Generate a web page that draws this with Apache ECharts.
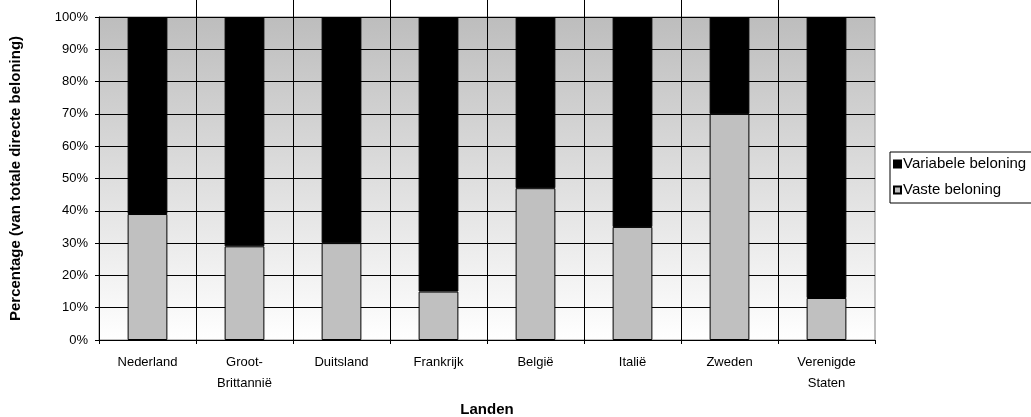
<!DOCTYPE html>
<html>
<head>
<meta charset="utf-8">
<script src="https://cdn.jsdelivr.net/npm/echarts@6/dist/echarts.min.js"></script>
<style>
  html, body { margin: 0; padding: 0; background: #fff; }
  #chart { width: 1031px; height: 417px; }
</style>
</head>
<body>
<div id="chart"></div>
<script>
// Landen en het aandeel vaste / variabele beloning (in % van totale directe beloning)
const landen = ['Nederland', 'Groot-\nBrittannië', 'Duitsland', 'Frankrijk', 'België', 'Italië', 'Zweden', 'Verenigde\nStaten'];
const vasteBeloning = [39, 29, 30, 15, 47, 35, 70, 13];
const variabeleBeloning = [61, 71, 70, 85, 53, 65, 30, 87];
const yTicks = { min: 0, max: 100, interval: 10 };

const FONT = '"Liberation Sans", Arial, sans-serif';

const chart = echarts.init(document.getElementById('chart'), null, { renderer: 'canvas' });

chart.setOption({
  animation: false,
  backgroundColor: '#ffffff',
  textStyle: { fontFamily: FONT },
  grid: [
    {
      left: 99, top: 17, right: 156, bottom: 77,
      outerBoundsMode: 'none',
      containLabel: false,
      show: true,
      borderColor: '#808080',
      borderWidth: 1,
      backgroundColor: new echarts.graphic.LinearGradient(0, 0, 0, 1, [
        { offset: 0, color: '#bdbdbd' },
        { offset: 1, color: '#ffffff' }
      ])
    },
    // strook boven het plotvlak waar de scheidingslijnen doorlopen
    { left: 99, top: 0, right: 156, height: 17, outerBoundsMode: 'none' }
  ],
  legend: {
    orient: 'vertical',
    left: 890, top: 152,
    data: ['Variabele beloning', 'Vaste beloning'],
    icon: 'rect',
    itemWidth: 7, itemHeight: 7,
    itemGap: 10,
    padding: [4, 40, 5, 3],
    borderColor: '#000', borderWidth: 1,
    textStyle: { fontFamily: FONT, fontSize: 15, color: '#000', padding: [0, 0, 0, -3], lineHeight: 16 }
  },
  xAxis: [
    {
      type: 'category',
      gridIndex: 0,
      data: landen,
      name: 'Landen',
      nameLocation: 'middle',
      nameGap: 62,
      nameTextStyle: { fontFamily: FONT, fontSize: 15, fontWeight: 'bold', color: '#000' },
      axisLine: { lineStyle: { color: '#000', width: 1 } },
      axisTick: { show: true, length: 4, lineStyle: { color: '#000' } },
      axisLabel: { fontFamily: FONT, fontSize: 13, color: '#000', margin: 12, lineHeight: 21 },
      splitLine: { show: true, showMinLine: false, showMaxLine: false, lineStyle: { color: '#000', width: 1 } }
    },
    {
      type: 'category',
      gridIndex: 1,
      data: landen,
      axisLine: { show: false },
      axisTick: { show: false },
      axisLabel: { show: false },
      splitLine: { show: true, showMinLine: false, showMaxLine: false, lineStyle: { color: '#000', width: 1 } }
    }
  ],
  yAxis: [
    {
      type: 'value',
      gridIndex: 0,
      min: yTicks.min, max: yTicks.max, interval: yTicks.interval,
      name: 'Percentage (van totale directe beloning)',
      nameLocation: 'middle',
      nameGap: 76,
      nameRotate: 90,
      nameTextStyle: { fontFamily: FONT, fontSize: 15, fontWeight: 'bold', color: '#000' },
      axisLine: { show: true, lineStyle: { color: '#000', width: 1 } },
      axisTick: { show: true, length: 4, lineStyle: { color: '#000' } },
      axisLabel: { fontFamily: FONT, fontSize: 13, color: '#000', margin: 11, formatter: '{value}%' },
      splitLine: { show: true, lineStyle: { color: '#000', width: 1 } }
    },
    {
      type: 'value',
      gridIndex: 1,
      show: false,
      min: 0, max: 1
    }
  ],
  series: [
    {
      name: 'Vaste beloning',
      type: 'bar',
      stack: 'totaal',
      xAxisIndex: 0, yAxisIndex: 0,
      barWidth: '41%',
      data: vasteBeloning,
      itemStyle: { color: '#c0c0c0', borderColor: '#000', borderWidth: 1 }
    },
    {
      name: 'Variabele beloning',
      type: 'bar',
      stack: 'totaal',
      xAxisIndex: 0, yAxisIndex: 0,
      barWidth: '41%',
      data: variabeleBeloning,
      itemStyle: { color: '#000000', borderColor: '#000', borderWidth: 1 }
    }
  ]
});
</script>
</body>
</html>
